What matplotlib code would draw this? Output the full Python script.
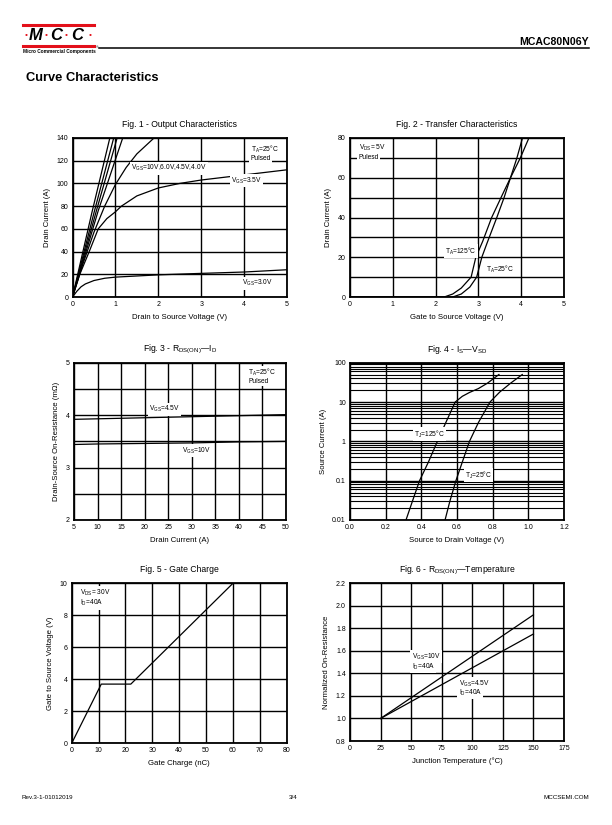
import matplotlib
matplotlib.use('Agg')
import matplotlib.pyplot as plt
from matplotlib.lines import Line2D

plt.rcParams['font.family'] = ['Liberation Sans', 'DejaVu Sans']
plt.rcParams['mathtext.fontset'] = 'custom'
plt.rcParams['mathtext.rm'] = 'Liberation Sans'
plt.rcParams['mathtext.it'] = 'Liberation Sans'

# Fig. 1 - output characteristics (Vds, Id)
f1_10v_x = [0, 0.45, 0.87]
f1_10v_y = [0, 74, 140]
f1_6v_x = [0, 0.5, 0.96]
f1_6v_y = [0, 74, 140]
f1_45v_x = [0, 0.55, 1.04]
f1_45v_y = [0, 75, 140]
f1_4v_x = [0, 0.6, 1.17]
f1_4v_y = [0, 76, 140]
f1_38v_x = [0, 0.25, 0.5, 0.75, 1.0, 1.25, 1.5, 1.9]
f1_38v_y = [0, 30, 57, 80, 99, 114, 126, 140]
f1_35v_x = [0, 0.17, 0.39, 0.6, 0.8, 1.0, 1.14, 1.5, 2.0, 2.5, 3.0, 4.0, 5.0]
f1_35v_y = [0, 20, 40, 60, 69, 75, 80, 89, 96, 100, 103, 107.5, 112]
f1_3v_x = [0, 0.1, 0.2, 0.3, 0.5, 0.75, 1.0, 1.5, 2.0, 3.0, 4.0, 5.0]
f1_3v_y = [0, 5, 9, 11.5, 14.5, 16.5, 17.5, 18.5, 19.5, 20.8, 22, 24]

# Fig. 2 - transfer characteristics (Vgs, Id)
f2_25_x = [0, 2.4, 2.6, 2.8, 2.96, 3.08, 3.2, 3.43, 3.6, 3.75, 3.9, 4.03]
f2_25_y = [0, 0, 1.5, 5, 10, 20, 27, 40, 50, 60, 70, 80]
f2_125_x = [0, 2.2, 2.4, 2.6, 2.83, 2.94, 3.1, 3.31, 3.55, 3.75, 3.98, 4.18]
f2_125_y = [0, 0, 1.5, 4.5, 10, 20, 28, 40, 51, 60, 70, 80]

# Fig. 3 - Rds(on) vs Id
f3_id = [5, 10, 20, 30, 40, 50]
f3_45v = [3.92, 3.93, 3.95, 3.97, 3.99, 4.01]
f3_10v = [3.44, 3.45, 3.46, 3.47, 3.49, 3.5]

# Fig. 4 - Is vs Vsd
f4_125_v = [0.314, 0.35, 0.39, 0.44, 0.49, 0.54, 0.59, 0.63, 0.67, 0.72, 0.77, 0.835]
f4_125_i = [0.01, 0.03, 0.1, 0.3, 1, 3.2, 10, 14, 17.5, 22, 30, 50]
f4_25_v = [0.533, 0.56, 0.594, 0.63, 0.67, 0.72, 0.785, 0.84, 0.90, 0.966]
f4_25_i = [0.01, 0.03, 0.1, 0.3, 1, 3, 10, 18, 30, 50]

# Fig. 5 - gate charge
f5_qg = [0, 11, 22, 60]
f5_vgs = [0, 3.7, 3.7, 10]

# Fig. 6 - normalized Rds(on) vs Tj
f6_tj = [25, 150]
f6_10v = [1.0, 1.92]
f6_45v = [1.0, 1.75]

W, H = 612, 825
fig = plt.figure(figsize=(W / 100, H / 100), dpi=100)


def box(l, t, r, b):
    return [l / W, 1 - b / H, (r - l) / W, (b - t) / H]


def style(ax, title, xlabel, ylabel):
    ax.set_title(title, fontsize=6.2, pad=8)
    ax.set_xlabel(xlabel, fontsize=5.6, labelpad=4)
    ax.set_ylabel(ylabel, fontsize=5.6, labelpad=4)
    ax.tick_params(which='both', length=0, labelsize=5, pad=3)
    ax.grid(True, which='both', color='black', lw=1.0)
    ax.set_axisbelow(True)
    for s in ax.spines.values():
        s.set_linewidth(1.3)


white = dict(facecolor='white', edgecolor='none', pad=1)
tk = dict(fontsize=4.8)
lw = 0.9

# ---------- Fig 1
ax1 = fig.add_axes(box(72.5, 138, 287, 297))
for x, y in [(f1_10v_x, f1_10v_y), (f1_6v_x, f1_6v_y), (f1_45v_x, f1_45v_y),
             (f1_4v_x, f1_4v_y), (f1_38v_x, f1_38v_y), (f1_35v_x, f1_35v_y),
             (f1_3v_x, f1_3v_y)]:
    ax1.plot(x, y, color='black', lw=lw)
ax1.set_xlim(0, 5)
ax1.set_ylim(0, 140)
ax1.set_xticks(range(0, 6))
ax1.set_yticks(range(0, 141, 20))
style(ax1, 'Fig. 1 - Output Characteristics', 'Drain to Source Voltage (V)', 'Drain Current (A)')
ax1.text(4.15, 130, r'T$_\mathregular{A}$=25°C', va='center', bbox=white, **tk)
ax1.text(4.15, 122, 'Pulsed', va='center', bbox=white, **tk)
ax1.text(1.37, 113.5, r'V$_\mathregular{GS}$=10V,6.0V,4.5V,4.0V', va='center', bbox=white, **tk)
ax1.text(3.7, 102.5, r'V$_\mathregular{GS}$=3.5V', va='center', bbox=white, **tk)
ax1.text(3.95, 12, r'V$_\mathregular{GS}$=3.0V', va='center', bbox=white, **tk)

# ---------- Fig 2
ax2 = fig.add_axes(box(350, 138, 564, 297))
ax2.plot(f2_25_x, f2_25_y, color='black', lw=lw)
ax2.plot(f2_125_x, f2_125_y, color='black', lw=lw)
ax2.set_xlim(0, 5)
ax2.set_ylim(0, 80)
ax2.set_xticks(range(0, 6))
ax2.set_yticks(range(0, 81, 20))
ax2.set_yticks(range(10, 80, 20), minor=True)
style(ax2, 'Fig. 2 - Transfer Characteristics', 'Gate to Source Voltage (V)', 'Drain Current (A)')
ax2.text(0.2, 75, r'V$_\mathregular{DS}$= 5V', va='center', bbox=white, **tk)
ax2.text(0.2, 70, 'Pulesd', va='center', bbox=white, **tk)
ax2.text(2.22, 23, r'T$_\mathregular{A}$=125°C', va='center', bbox=white, **tk)
ax2.text(3.18, 14, r'T$_\mathregular{A}$=25°C', va='center', bbox=white, **tk)

# ---------- Fig 3
ax3 = fig.add_axes(box(74, 362.7, 286, 520))
ax3.plot(f3_id, f3_45v, color='black', lw=lw)
ax3.plot(f3_id, f3_10v, color='black', lw=lw)
ax3.set_xlim(5, 50)
ax3.set_ylim(2, 5)
ax3.set_xticks(range(5, 51, 5))
ax3.set_yticks([2, 3, 4, 5])
ax3.set_yticks([2.5, 3.5, 4.5], minor=True)
style(ax3, r'Fig. 3 - R$_\mathregular{DS(ON)}$—I$_\mathregular{D}$', 'Drain Current (A)',
      'Drain-Source On-Resistance (mΩ)')
ax3.text(42, 4.81, r'T$_\mathregular{A}$=25°C', va='center', bbox=white, **tk)
ax3.text(42, 4.64, 'Pulsed', va='center', bbox=white, **tk)
ax3.text(20.9, 4.11, r'V$_\mathregular{GS}$=4.5V', va='center', bbox=white, **tk)
ax3.text(28, 3.32, r'V$_\mathregular{GS}$=10V', va='center', bbox=white, **tk)

# ---------- Fig 4
ax4 = fig.add_axes(box(350, 362.7, 564, 520))
ax4.plot(f4_125_v, f4_125_i, color='black', lw=lw)
ax4.plot(f4_25_v, f4_25_i, color='black', lw=lw)
ax4.set_yscale('log')
ax4.set_xlim(0, 1.2)
ax4.set_ylim(0.01, 100)
ax4.set_xticks([0, 0.2, 0.4, 0.6, 0.8, 1.0, 1.2])
ax4.set_xticklabels(['0.0', '0.2', '0.4', '0.6', '0.8', '1.0', '1.2'])
ax4.set_yticks([0.01, 0.1, 1, 10, 100])
ax4.set_yticklabels(['0.01', '0.1', '1', '10', '100'])
style(ax4, r'Fig. 4 - I$_\mathregular{S}$—V$_\mathregular{SD}$', 'Source to Drain Voltage (V)',
      'Source Current (A)')
ax4.grid(True, which='minor', axis='y', color='black', lw=0.8)
ax4.text(0.36, 1.5, r'T$_\mathregular{J}$=125°C', va='center', bbox=white, **tk)
ax4.text(0.645, 0.14, r'T$_\mathregular{J}$=25°C', va='center', bbox=white, **tk)

# ---------- Fig 5
ax5 = fig.add_axes(box(71.7, 583.3, 286.7, 743.3))
ax5.plot(f5_qg, f5_vgs, color='black', lw=lw)
ax5.set_xlim(0, 80)
ax5.set_ylim(0, 10)
ax5.set_xticks(range(0, 81, 10))
ax5.set_yticks(range(0, 11, 2))
style(ax5, 'Fig. 5 - Gate Charge', 'Gate Charge (nC)', 'Gate to Source Voltage (V)')
ax5.text(3.1, 9.4, r'V$_\mathregular{DS}$= 30V', va='center', bbox=white, **tk)
ax5.text(3.1, 8.75, r'I$_\mathregular{D}$=40A', va='center', bbox=white, **tk)

# ---------- Fig 6
ax6 = fig.add_axes(box(350, 583.3, 564, 741))
ax6.plot(f6_tj, f6_10v, color='black', lw=lw)
ax6.plot(f6_tj, f6_45v, color='black', lw=lw)
ax6.set_xlim(0, 175)
ax6.set_ylim(0.8, 2.2)
ax6.set_xticks(range(0, 176, 25))
ax6.set_yticks([0.8, 1.0, 1.2, 1.4, 1.6, 1.8, 2.0, 2.2])
ax6.set_yticklabels(['0.8', '1.0', '1.2', '1.4', '1.6', '1.8', '2.0', '2.2'])
style(ax6, r'Fig. 6 - R$_\mathregular{DS(ON)}$—Temperature', 'Junction Temperature (°C)',
      'Normalized On-Resistance')
ax6.text(50.4, 1.55, r'V$_\mathregular{GS}$=10V', va='center', bbox=white, **tk)
ax6.text(50.4, 1.46, r'I$_\mathregular{D}$=40A', va='center', bbox=white, **tk)
ax6.text(89, 1.31, r'V$_\mathregular{GS}$=4.5V', va='center', bbox=white, **tk)
ax6.text(89, 1.23, r'I$_\mathregular{D}$=40A', va='center', bbox=white, **tk)

# ---------- page header / footer
red = '#e3101a'
fig.add_artist(Line2D([22.7 / W, 94 / W], [1 - 24.7 / H] * 2, color=red, lw=2.2))
fig.add_artist(Line2D([22.7 / W, 94 / W], [1 - 46 / H] * 2, color=red, lw=2.2))
for xc, ch in [(35.8, 'M'), (55.8, 'C'), (77.5, 'C')]:
    fig.text(xc / W, 1 - 35.5 / H, ch, color='black', ha='center', va='center',
             fontsize=12, fontweight='bold', fontstyle='italic')
for xc in [26, 46.2, 66.4, 90.2]:
    fig.text(xc / W, 1 - 36 / H, '•', color=red, ha='center', va='center', fontsize=6)
fig.text(22.7 / W, 1 - 52 / H, 'Micro Commercial Components', fontsize=3.4,
         fontweight='bold', va='center', ha='left')
fig.text(95.5 / W, 1 - 47.5 / H, '®', fontsize=2.5, va='center', ha='left')
fig.add_artist(Line2D([99 / W, 589 / W], [1 - 48.3 / H] * 2, color='black', lw=1.1))
fig.text(589 / W, 1 - 42.3 / H, 'MCAC80N06Y', fontsize=7.6, fontweight='bold',
         ha='right', va='center')
fig.text(26 / W, 1 - 78.3 / H, 'Curve Characteristics', fontsize=9.3,
         fontweight='bold', ha='left', va='center')
fig.text(22 / W, 1 - 797.5 / H, 'Rev.3-1-01012019', fontsize=4.5, ha='left', va='center')
fig.text(293 / W, 1 - 797.5 / H, '3/4', fontsize=4.5, ha='center', va='center')
fig.text(589 / W, 1 - 797.5 / H, 'MCCSEMI.COM', fontsize=4.5, ha='right', va='center')

fig.savefig('out.png', dpi=100)
